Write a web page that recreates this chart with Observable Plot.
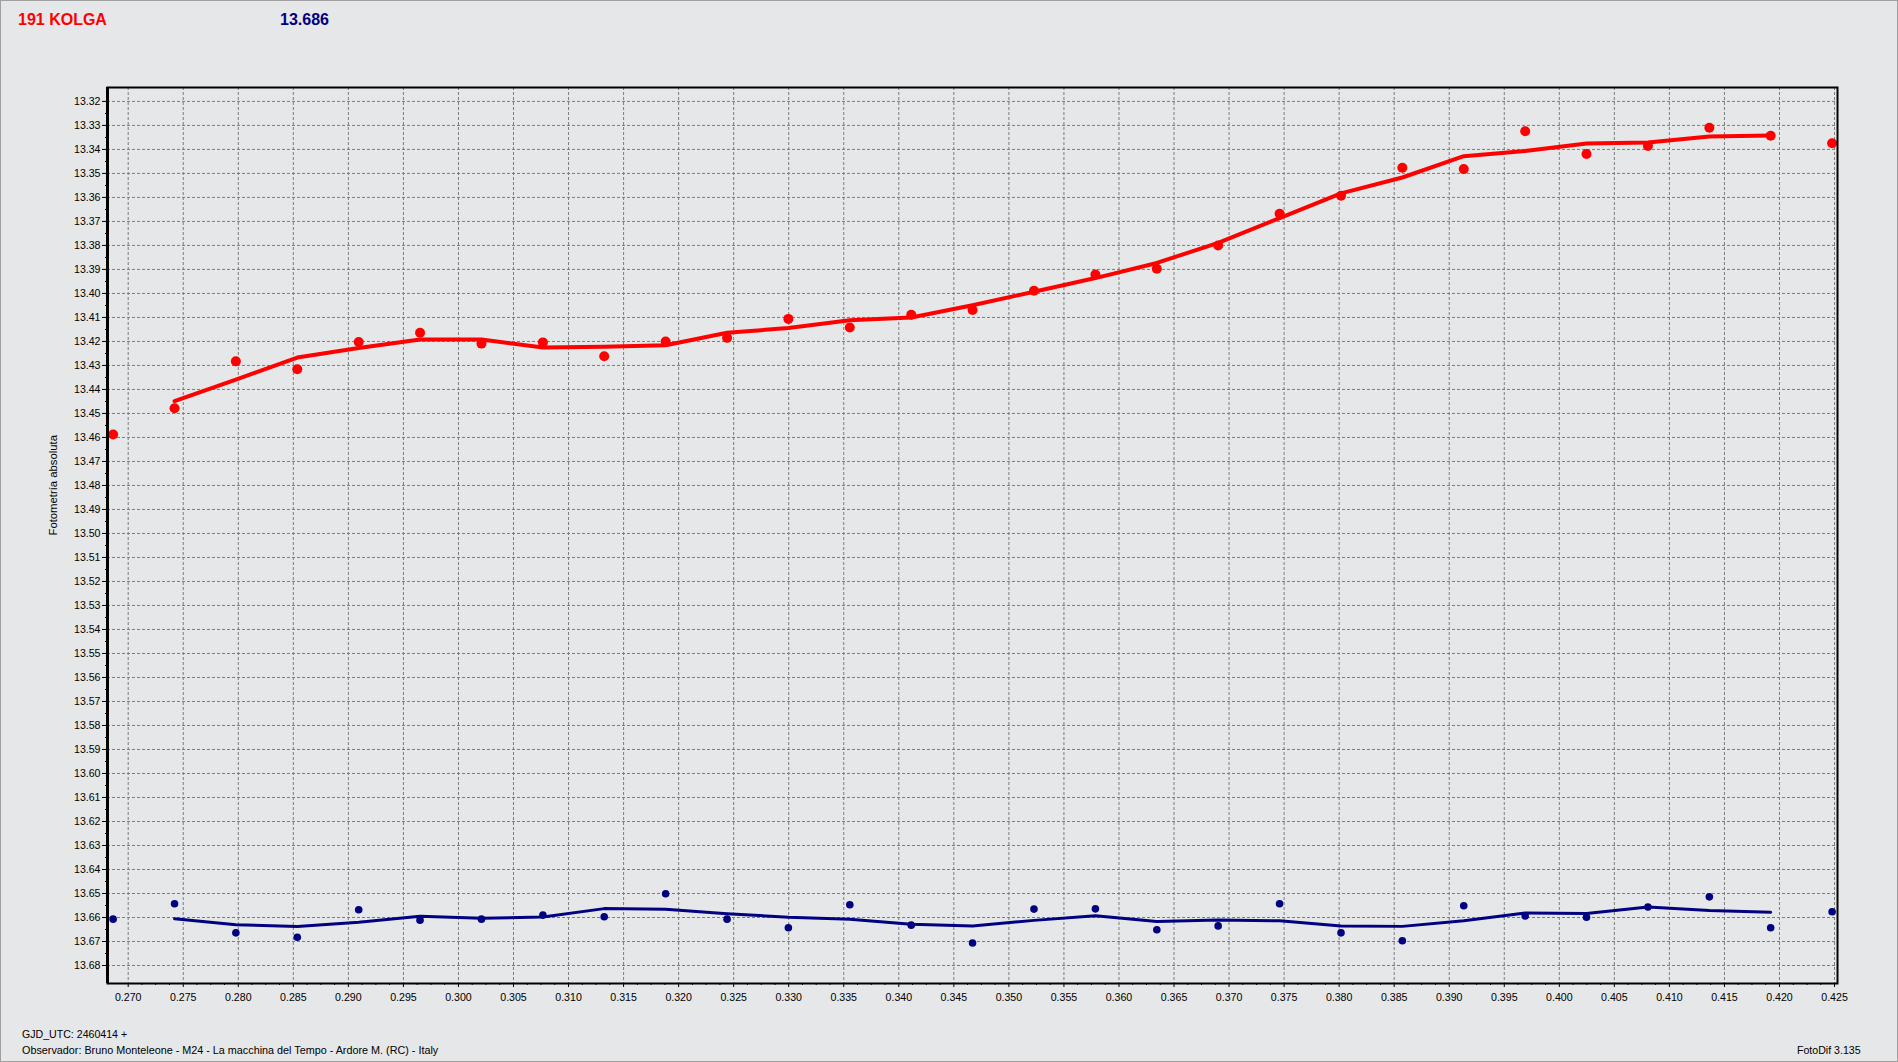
<!DOCTYPE html>
<html>
<head>
<meta charset="utf-8">
<script src="https://cdn.jsdelivr.net/npm/d3@7"></script>
<script src="https://cdn.jsdelivr.net/npm/@observablehq/plot@0.6"></script>
<style>
  html, body { margin: 0; padding: 0; background: #E6E7E8; }
  #page { position: relative; width: 1898px; height: 1062px; overflow: hidden; background: #E6E7E8;
          font-family: "Liberation Sans", Arial, sans-serif; }
  #border { position: absolute; left: 0; top: 0; width: 1898px; height: 1062px; box-sizing: border-box;
            border: 1px solid #A0A0A0; pointer-events: none; }
  .t { position: absolute; white-space: nowrap; }
  #title { left: 18px; top: 12px; font-size: 16px; line-height: 16px; font-weight: bold; color: #FF0000; }
  #value { left: 280px; top: 12px; font-size: 16px; line-height: 16px; font-weight: bold; color: #000080; }
  #chart { position: absolute; left: 0; top: 40px; }
  #gjd { left: 22px; top: 1028px; font-size: 10.6px; line-height: 12px; color: #000; }
  #obs { left: 22px; top: 1044px; font-size: 10.8px; line-height: 12px; color: #000; }
  #ver { left: 1797px; top: 1044px; font-size: 10.6px; line-height: 12px; color: #000; }
</style>
</head>
<body>
<div id="page">
  <div class="t" id="title">191 KOLGA</div>
  <div class="t" id="value">13.686</div>
  <div id="chart"></div>
  <div class="t" id="gjd">GJD_UTC: 2460414 +</div>
  <div class="t" id="obs">Observador: Bruno Monteleone - M24 - La macchina del Tempo - Ardore M. (RC) - Italy</div>
  <div class="t" id="ver">FotoDif 3.135</div>
  <div id="border"></div>
</div>
<script>
// Observation times (GJD_UTC - 2460414)
const times = [0.26863, 0.27421, 0.27978, 0.28536, 0.29094, 0.29651, 0.30209, 0.30767, 0.31324, 0.31882,
               0.32440, 0.32997, 0.33555, 0.34113, 0.34670, 0.35228, 0.35786, 0.36344, 0.36901, 0.37459,
               0.38017, 0.38574, 0.39132, 0.39690, 0.40247, 0.40805, 0.41363, 0.41920, 0.42478];

// 191 Kolga (red) magnitudes
const redMag = [13.4588, 13.4478, 13.4283, 13.4316, 13.4202, 13.4164, 13.4209, 13.4204, 13.4262, 13.4200,
                13.4185, 13.4106, 13.4142, 13.4089, 13.4069, 13.3989, 13.3921, 13.3897, 13.3800, 13.3668,
                13.3593, 13.3476, 13.3482, 13.3324, 13.3419, 13.3386, 13.3310, 13.3343, 13.3374];
// red trend line (from 2nd to 2nd-last observation)
const redTrend = [13.4449, 13.4359, 13.4267, 13.4227, 13.4192, 13.4192, 13.4225, 13.4222, 13.4216, 13.4164,
                  13.4144, 13.4112, 13.4100, 13.4049, 13.3993, 13.3936, 13.3873, 13.3789, 13.3686, 13.3583,
                  13.3517, 13.3428, 13.3407, 13.3375, 13.3371, 13.3346, 13.3342];

// comparison star (navy) magnitudes
const blueMag = [13.6607, 13.6543, 13.6664, 13.6682, 13.6568, 13.6611, 13.6607, 13.6590, 13.6597, 13.6501,
                 13.6607, 13.6643, 13.6547, 13.6632, 13.6706, 13.6565, 13.6564, 13.6651, 13.6635, 13.6543,
                 13.6664, 13.6697, 13.6551, 13.6594, 13.6599, 13.6556, 13.6514, 13.6643, 13.6576];
const blueTrend = [13.6605, 13.6630, 13.6638, 13.6620, 13.6595, 13.6603, 13.6598, 13.6563, 13.6566, 13.6584,
                   13.6599, 13.6607, 13.6628, 13.6635, 13.6612, 13.6593, 13.6617, 13.6610, 13.6614, 13.6635,
                   13.6637, 13.6614, 13.6581, 13.6583, 13.6556, 13.6571, 13.6578];

// tick values
const xTicks = [0.270, 0.275, 0.280, 0.285, 0.290, 0.295, 0.300, 0.305, 0.310, 0.315, 0.320, 0.325, 0.330,
                0.335, 0.340, 0.345, 0.350, 0.355, 0.360, 0.365, 0.370, 0.375, 0.380, 0.385, 0.390, 0.395,
                0.400, 0.405, 0.410, 0.415, 0.420, 0.425];
const yTicks = [13.32, 13.33, 13.34, 13.35, 13.36, 13.37, 13.38, 13.39, 13.40, 13.41, 13.42, 13.43, 13.44,
                13.45, 13.46, 13.47, 13.48, 13.49, 13.50, 13.51, 13.52, 13.53, 13.54, 13.55, 13.56, 13.57,
                13.58, 13.59, 13.60, 13.61, 13.62, 13.63, 13.64, 13.65, 13.66, 13.67, 13.68];
const xDomain = [0.26812, 0.42527];
const yDomain = [13.3142, 13.6875];
const yLabel = "Fotometría absoluta";

const yMinor = d3.pairs(yTicks, (a, b) => (a + b) / 2);
const xMinor = d3.pairs(xTicks).flatMap(([a, b]) => [1, 2, 3].map(k => a + (b - a) * k / 4));

const pts = mags => times.map((t, i) => ({t, m: mags[i]}));
const trend = vals => vals.map((m, i) => ({t: times[i + 1], m}));

const grid = {stroke: "#7c7c7c", strokeOpacity: 1, strokeWidth: 1, strokeDasharray: "3,2"};

const chart = Plot.plot({
  width: 1898,
  height: 976,
  marginLeft: 107,
  marginRight: 61,
  marginTop: 47,
  marginBottom: 33,
  x: {domain: xDomain},
  y: {domain: yDomain, reverse: true},
  style: {background: "transparent", fontFamily: "'Liberation Sans', Arial, sans-serif", fontSize: "10.6px", color: "#000", overflow: "visible"},
  marks: [
    Plot.gridY(yTicks, grid),
    Plot.gridX(xTicks, grid),
    Plot.axisY(yTicks, {tickSize: 5, tickPadding: 2, tickFormat: d3.format(".2f"), label: null}),
    Plot.axisY(yMinor, {tickSize: 2, tickFormat: () => "", label: null}),
    Plot.axisX(xTicks, {tickSize: 4, tickPadding: 6, tickFormat: d3.format(".3f"), label: null}),
    Plot.axisX(xMinor, {tickSize: 2, tickFormat: () => "", label: null}),
    Plot.line(trend(redTrend), {x: "t", y: "m", stroke: "#FF0000", strokeWidth: 4}),
    Plot.line(trend(blueTrend), {x: "t", y: "m", stroke: "#000080", strokeWidth: 3}),
    Plot.dot(pts(redMag), {x: "t", y: "m", r: 5, fill: "#FF0000"}),
    Plot.dot(pts(blueMag), {x: "t", y: "m", r: 3.8, fill: "#000080"}),
    Plot.frame({stroke: "#000", strokeWidth: 2}),
    Plot.ruleX([xDomain[0]], {stroke: "#000", strokeWidth: 3}),
    Plot.text([yLabel], {text: d => d, frameAnchor: "left", dx: -54, rotate: -90, fontSize: 11.3, fill: "#000"})
  ]
});
document.getElementById("chart").appendChild(chart);
</script>
</body>
</html>
